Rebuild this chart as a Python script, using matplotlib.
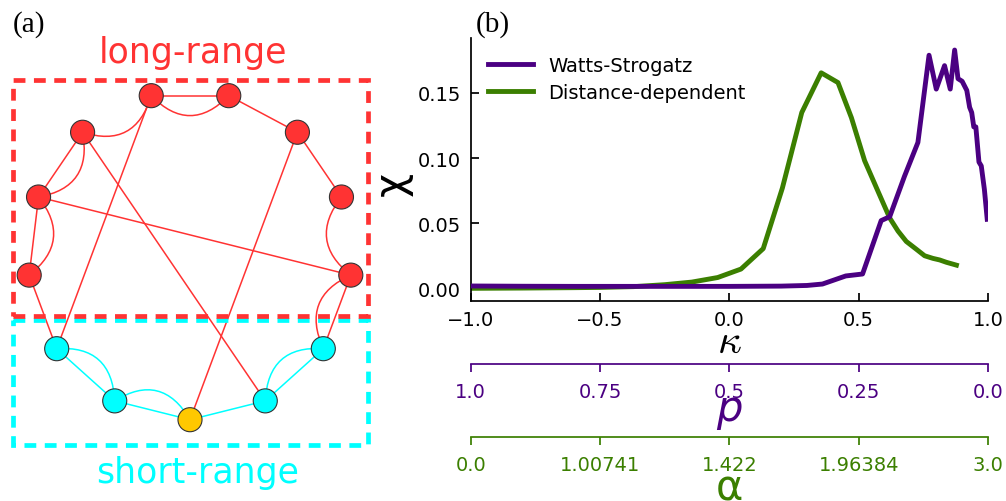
import numpy as np
import matplotlib
matplotlib.use("Agg")
import matplotlib.pyplot as plt
import matplotlib.transforms as mtransforms
from matplotlib.path import Path
from matplotlib.patches import PathPatch, Rectangle

# ---------------- data ----------------
# Watts-Strogatz susceptibility vs kappa
ws_kappa = [-1.0, -0.8, -0.6, -0.4, -0.2, 0.0, 0.2, 0.30, 0.36, 0.45, 0.515,
            0.587, 0.62, 0.677, 0.729, 0.772, 0.800, 0.832, 0.854, 0.871, 0.884,
            0.900, 0.918, 0.929, 0.937, 0.945, 0.953, 0.965, 0.974, 0.986, 0.997]
ws_chi = [0.0018, 0.0016, 0.0015, 0.0015, 0.0015, 0.0015, 0.0017, 0.0022, 0.0033,
          0.0095, 0.011, 0.052, 0.055, 0.086, 0.112, 0.179, 0.153, 0.171, 0.153,
          0.183, 0.161, 0.159, 0.152, 0.139, 0.135, 0.124, 0.124, 0.097, 0.094,
          0.076, 0.053]

# Distance-dependent model susceptibility vs kappa
dd_kappa = [-1.0, -0.8, -0.6, -0.5, -0.37, -0.25, -0.145, -0.045, 0.045, 0.131,
            0.205, 0.28, 0.355, 0.42, 0.472, 0.523, 0.578, 0.62, 0.652, 0.684,
            0.723, 0.755, 0.787, 0.813, 0.839, 0.878]
dd_chi = [0.0, 0.0002, 0.0005, 0.0007, 0.0013, 0.0028, 0.0048, 0.0083, 0.0148,
          0.0305, 0.077, 0.135, 0.1655, 0.158, 0.131, 0.098, 0.073, 0.054, 0.044,
          0.036, 0.030, 0.025, 0.023, 0.0218, 0.020, 0.0178]

kappa_ticks = [-1.0, -0.5, 0.0, 0.5, 1.0]
p_labels = ["1.0", "0.75", "0.5", "0.25", "0.0"]
alpha_labels = ["0.0", "1.00741", "1.422", "1.96384", "3.0"]

# Network of panel (a): 13 nodes on a ring
n_nodes = 13
node_group = ["focus", "short", "short", "long", "long", "long", "long", "long",
              "long", "long", "long", "short", "short"]
straight_edges = [(0, 1), (1, 2), (2, 3), (4, 5), (5, 6), (6, 7), (8, 9), (9, 10),
                  (10, 11), (11, 12), (12, 0)]
curved_edges = [(1, 2), (2, 3), (3, 4), (6, 7), (7, 8), (8, 9), (9, 10), (11, 12),
                (12, 0)]
long_edges = [(7, 11), (8, 1), (9, 3), (5, 0)]

# ---------------- style ----------------
PURPLE = "#4b0082"
GREEN = "#3b7f00"
RED = "#ff3333"
CYAN = "#00ffff"
GOLD = "#ffc800"
node_colors = {"focus": GOLD, "short": CYAN, "long": RED}

W, H = 1006, 502
fig = plt.figure(figsize=(W / 100, H / 100), dpi=100)

# ---------------- panel (a): network ----------------
axa = fig.add_axes([0, 0, 380 / W, 1])
axa.set_xlim(-1.173, 1.173)
axa.set_ylim(-1.4945, 1.559)
axa.axis("off")

theta = -np.pi / 2 + 2 * np.pi * np.arange(n_nodes) / n_nodes
pos = np.column_stack([np.cos(theta), np.sin(theta)])


def edge_color(i, j):
    return RED if "long" in (node_group[i], node_group[j]) else CYAN


for i, j in straight_edges + long_edges:
    axa.plot([pos[i, 0], pos[j, 0]], [pos[i, 1], pos[j, 1]],
             color=edge_color(i, j), lw=1.1, zorder=1)

bend = 0.25
for i, j in curved_edges:
    mid = (pos[i] + pos[j]) / 2
    ctrl = mid * (1 - bend)
    path = Path([pos[i], ctrl, pos[j]], [Path.MOVETO, Path.CURVE3, Path.CURVE3])
    axa.add_patch(PathPatch(path, fill=False, edgecolor=edge_color(i, j),
                            lw=1.1, zorder=1))

axa.scatter(pos[:, 0], pos[:, 1], s=300,
            c=[node_colors[g] for g in node_group],
            edgecolors="#333333", linewidths=0.8, zorder=3)

axa.add_patch(Rectangle((-1.094, -0.392), 2.191, -0.760, fill=False,
                        edgecolor=CYAN, lw=3.4, linestyle=(0, (2.5, 1.8)),
                        zorder=2))
axa.add_patch(Rectangle((-1.094, -0.367), 2.195, 1.435, fill=False,
                        edgecolor=RED, lw=3.4, linestyle=(0, (2.5, 1.8)),
                        zorder=2))
axa.text(0.02, 1.176, "long-range", color=RED, fontsize=25, ha="center",
         va="baseline")
axa.text(0.046, -1.381, "short-range", color=CYAN, fontsize=25, ha="center",
         va="baseline")

# ---------------- panel (b): susceptibility ----------------
left, right, top, bottom = 470.7, 988.0, 39.3, 301.7
ax = fig.add_axes([left / W, 1 - bottom / H, (right - left) / W, (bottom - top) / H])
ax.plot(ws_kappa, ws_chi, color=PURPLE, lw=3.5, label="Watts-Strogatz", zorder=3)
ax.plot(dd_kappa, dd_chi, color=GREEN, lw=3.5, label="Distance-dependent", zorder=2)
ax.set_xlim(-1.0, 1.0)
ax.set_ylim(-0.0095, 0.192)
ax.set_xticks(kappa_ticks)
ax.set_yticks([0.0, 0.05, 0.10, 0.15])
ax.yaxis.set_major_formatter(matplotlib.ticker.FormatStrFormatter("%.2f"))
for s in ("top", "right"):
    ax.spines[s].set_visible(False)
for s in ("left", "bottom"):
    ax.spines[s].set_linewidth(1.25)
ax.tick_params(direction="in", length=6, width=1.25, labelsize=14, pad=7)
ax.legend(loc="upper left", frameon=False, fontsize=14, handlelength=2.3,
          labelspacing=0.4)

figx_axy = mtransforms.blended_transform_factory(fig.transFigure, ax.transAxes)
ax.set_ylabel("χ", fontsize=30, rotation=90)
ax.yaxis.label.set_va("center")
ax.yaxis.label.set_ha("center")
ax.yaxis.set_label_coords(392 / W, 1 - 184 / H, transform=fig.transFigure)

ax.set_xlabel(r"$\kappa$", fontsize=30, math_fontfamily="cm")
ax.xaxis.label.set_va("baseline")
axx_figy = mtransforms.blended_transform_factory(ax.transAxes, fig.transFigure)
ax.xaxis.set_label_coords(0.5, 1 - 353.4 / H, transform=axx_figy)


def extra_axis(offset_pt, labels, color, label_text, label_y, **kw):
    t = ax.twiny()
    t.set_xlim(ax.get_xlim())
    t.xaxis.set_ticks_position("bottom")
    t.xaxis.set_label_position("bottom")
    for s in ("top", "left", "right"):
        t.spines[s].set_visible(False)
    t.spines["bottom"].set_position(("outward", offset_pt))
    t.spines["bottom"].set_color(color)
    t.spines["bottom"].set_linewidth(1.25)
    t.set_xticks(kappa_ticks, labels=labels)
    t.tick_params(direction="out", length=6, width=1.25, labelsize=14, pad=7,
                  colors=color)
    t.set_xlabel(label_text, fontsize=30, color=color, **kw)
    t.xaxis.label.set_va("baseline")
    t.xaxis.set_label_coords(0.5, 1 - label_y / H, transform=axx_figy)
    return t


extra_axis(45.6, p_labels, PURPLE, r"$p$", 420.6)
extra_axis(98.4, alpha_labels, GREEN, "α", 501.0)

fig.text(13 / W, 1 - 31.7 / H, "(a)", fontsize=21, family="Liberation Serif",
         va="baseline")
fig.text(476 / W, 1 - 31.7 / H, "(b)", fontsize=21, family="Liberation Serif",
         va="baseline")

fig.savefig("out.png", dpi=100)
